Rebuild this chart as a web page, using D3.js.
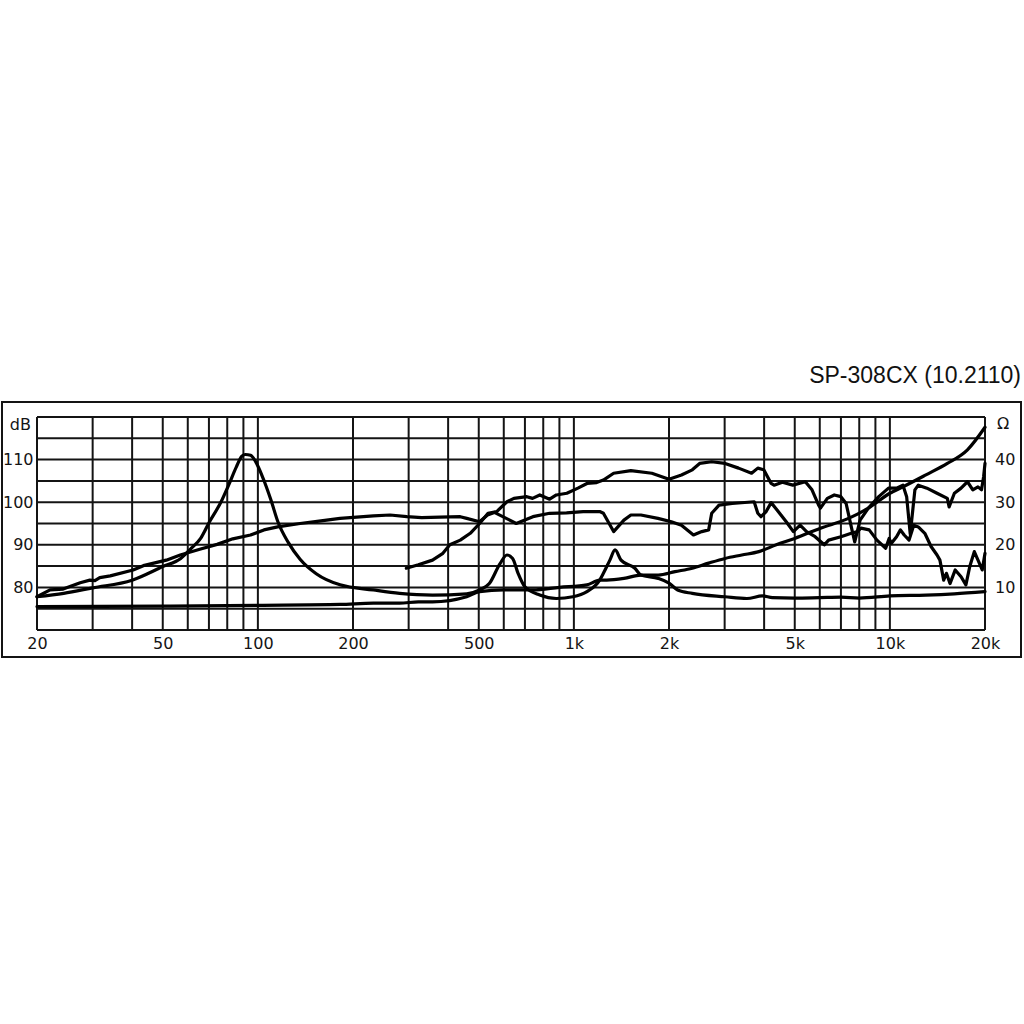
<!DOCTYPE html>
<html>
<head>
<meta charset="utf-8">
<script src="https://cdn.jsdelivr.net/npm/d3@7"></script>
<style>
  html, body { margin: 0; padding: 0; background: #fff; }
  svg { display: block; }
</style>
</head>
<body>
<script>
// ---------------- DATA ----------------
const chartTitle = "SP-308CX (10.2110)";
const xTickValues = [20, 50, 100, 200, 500, 1000, 2000, 5000, 10000, 20000];
const xTickLabels = ["20", "50", "100", "200", "500", "1k", "2k", "5k", "10k", "20k"];
const dbTickValues = [80, 90, 100, 110];
const ohmTickValues = [10, 20, 30, 40];

// Woofer SPL (dB)
const spl1Freq = [20,22,24.2,27.4,29.4,30.5,31.6,34.1,40.3,43.4,51.3,56.8,65.9,74.3,83.3,94.8,104.5,115.5,136,154,182,232,262,296,330,377,437,458,503,533,560,600,657,742,838,948,1070,1207,1240,1336,1440,1515,1630,1845,2035,2190,2390,2540,2670,2730,2880,3170,3720,3820,3910,4060,4210,4350,4700,4950,5200,5450,5800,6200,6400,7000,7550,7900,8100,8600,9100,9700,9950,10100,10500,10800,11100,11500,11900,12300,12900,13500,14100,14400,14800,15100,15500,16100,16800,17400,17900,18500,18900,19600,20000];
const spl1Db   = [77.8,79.4,79.6,81.1,81.7,81.6,82.3,82.7,84.1,85.1,86.4,87.6,89.0,90.1,91.4,92.3,93.5,94.2,95.0,95.5,96.2,96.8,97.0,96.6,96.4,96.5,96.6,96.2,95.4,97.0,97.6,96.5,95.0,96.6,97.4,97.5,97.8,97.8,97.4,93.1,95.8,97.0,97.0,96.2,95.4,94.6,92.3,93.1,93.5,97.4,99.3,99.7,100.1,97.4,96.6,97.8,99.9,98.6,95.4,93.1,94.6,93.1,91.9,90.0,91.1,91.9,92.7,93.1,93.9,93.5,91.1,89.2,91.5,90.3,91.9,93.5,92.3,91.1,94.6,94.2,92.7,89.6,87.6,86.4,81.7,83.3,80.9,84.1,82.5,80.6,84.9,88.4,86.8,84.1,88.0];

// Tweeter SPL (dB)
const spl2Freq = [295,322,357,385,405,437,470,503,535,570,614,646,710,740,780,838,880,950,1030,1100,1180,1240,1336,1515,1765,2000,2190,2370,2500,2730,3010,3320,3650,3820,3990,4210,4300,4570,4930,5400,5670,5950,6030,6340,6670,7000,7270,7550,7740,8050,8550,9220,9900,10500,11000,11300,11600,12000,12300,13100,14100,15200,15400,16000,16800,17600,18300,19000,19500,19800,20000];
const spl2Db   = [84.5,85.3,86.4,88.0,90.0,91.1,92.7,95.0,97.4,97.8,100.1,100.9,101.3,100.9,101.7,100.7,101.7,102.1,103.3,104.4,104.6,105.2,106.8,107.4,106.8,105.4,106.4,107.6,109.1,109.5,109.1,108.0,106.8,108.0,107.6,104.4,104.0,104.7,104.0,104.8,102.9,99.3,98.6,100.9,101.7,101.3,99.7,94.2,90.7,95.8,98.6,101.3,103.3,103.3,104.0,101.3,92.5,102.9,104.0,103.3,102.1,100.9,98.9,102.1,103.3,104.8,102.9,103.6,102.9,106.0,109.1];

// Impedance 1 (Ohm) - resonance peak
const imp1Freq = [20,24.3,30,40,50,57,61.6,65.9,70.3,76.5,80.8,85.5,89,91.3,94.8,99.7,104.9,110,115.7,124.9,136,153,182,232,281,357,458,503,540,584,614,640,666,699,780,880,993,1100,1207,1240,1300,1350,1410,1560,1630,1850,2000,2130,2370,3010,3530,3950,4250,5000,6000,7000,8000,10000,13000,16000,20000];
const imp1Ohm  = [7.8,8.6,9.9,11.7,14.9,16.8,19.2,21.5,25.4,30.1,34.0,38.3,40.8,41.2,41.0,38.7,34.8,30.5,25.4,20.5,16.6,13.2,10.6,9.4,8.6,8.2,8.5,9.4,10.9,15.6,17.6,16.8,13.3,10.2,8.2,7.4,7.8,9.0,11.7,13.3,16.4,18.8,16.4,14.5,12.9,12.1,11.0,9.4,8.6,7.8,7.4,8.0,7.6,7.5,7.6,7.7,7.5,8.0,8.2,8.5,9.0];

// Impedance 2 (Ohm) - rising
const imp2Freq = [20,50,100,182,232,281,322,357,458,503,600,742,900,1100,1207,1270,1440,1630,1850,2090,2370,2670,3010,3400,3850,4370,5000,6030,7400,8550,10000,11000,13000,15200,17600,20000];
const imp2Ohm  = [5.5,5.6,5.8,6.0,6.3,6.3,6.6,6.6,7.8,9.0,9.4,9.4,10.0,10.6,11.7,11.7,12.1,12.9,12.9,13.7,14.5,15.7,16.8,17.6,18.4,20.0,21.5,23.9,26.2,28.6,32.1,33.6,36.4,39.1,42.3,47.6];

// ---------------- DRAW ----------------
const W = 1024, H = 1024;
const plot = { left: 37, right: 985, top: 417, bottom: 630 };
const svg = d3.select("body").append("svg").attr("width", W).attr("height", H);
svg.append("rect").attr("width", W).attr("height", H).attr("fill", "#fff");

const x = d3.scaleLog().domain([20, 20000]).range([plot.left, plot.right]);
const y = d3.scaleLinear().domain([70, 120]).range([plot.bottom, plot.top]);
const z = d3.scaleLinear().domain([0, 50]).range([plot.bottom, plot.top]);

const ink = "#141414";
const fontNum = "'DejaVu Sans', Verdana, sans-serif";

// outer frame
svg.append("rect").attr("x", 2).attr("y", 402).attr("width", 1019).attr("height", 255)
  .attr("fill", "none").attr("stroke", ink).attr("stroke-width", 2);

// grid
const g = svg.append("g");
g.selectAll("line.v").data(x.ticks()).join("line")
  .attr("x1", d => x(d)).attr("x2", d => x(d))
  .attr("y1", plot.top).attr("y2", plot.bottom)
  .attr("stroke", ink).attr("stroke-width", 2);
g.selectAll("line.h").data(y.ticks(10)).join("line")
  .attr("x1", plot.left).attr("x2", plot.right)
  .attr("y1", d => y(d)).attr("y2", d => y(d))
  .attr("stroke", ink).attr("stroke-width", 2);

// axes
function styleAxis(sel) {
  sel.select(".domain").remove();
  sel.selectAll(".tick line").remove();
  sel.selectAll("text").attr("font-family", fontNum).attr("font-size", 16).attr("fill", ink);
}
svg.append("g").attr("transform", `translate(0,${plot.bottom})`)
  .call(d3.axisBottom(x).tickValues(xTickValues)
    .tickFormat((d, i) => xTickLabels[i]).tickSize(0).tickPadding(7.5))
  .call(styleAxis);
svg.append("g").attr("transform", `translate(${plot.left},0)`)
  .call(d3.axisLeft(y).tickValues(dbTickValues).tickFormat(d3.format("d")).tickSize(0).tickPadding(3.5))
  .call(styleAxis);
svg.append("g").attr("transform", `translate(${plot.right},0)`)
  .call(d3.axisRight(z).tickValues(ohmTickValues).tickFormat(d3.format("d")).tickSize(0).tickPadding(10))
  .call(styleAxis);

svg.append("text").attr("x", 31).attr("y", 430).attr("text-anchor", "end")
  .attr("font-family", fontNum).attr("font-size", 16).attr("fill", ink).text("dB");
svg.append("text").attr("x", 997).attr("y", 429).attr("text-anchor", "start")
  .attr("font-family", fontNum).attr("font-size", 16).attr("fill", ink).text("Ω");

svg.append("text").attr("x", 1021).attr("y", 383).attr("text-anchor", "end")
  .attr("font-family", "'Liberation Sans', Arial, sans-serif").attr("font-size", 23)
  .attr("fill", "#111").text(chartTitle);

// curves
const curves = [
  { f: imp2Freq, v: imp2Ohm, s: z, curve: d3.curveMonotoneX },
  { f: imp1Freq, v: imp1Ohm, s: z, curve: d3.curveMonotoneX },
  { f: spl1Freq, v: spl1Db, s: y, curve: d3.curveLinear },
  { f: spl2Freq, v: spl2Db, s: y, curve: d3.curveLinear }
];
curves.forEach(c => {
  const pts = c.f.map((f, i) => [f, c.v[i]]);
  const line = d3.line().x(d => x(d[0])).y(d => c.s(d[1])).curve(c.curve);
  svg.append("path").attr("d", line(pts)).attr("fill", "none")
    .attr("stroke", "#000").attr("stroke-width", 3.2)
    .attr("stroke-linejoin", "round").attr("stroke-linecap", "round");
});
</script>
</body>
</html>
